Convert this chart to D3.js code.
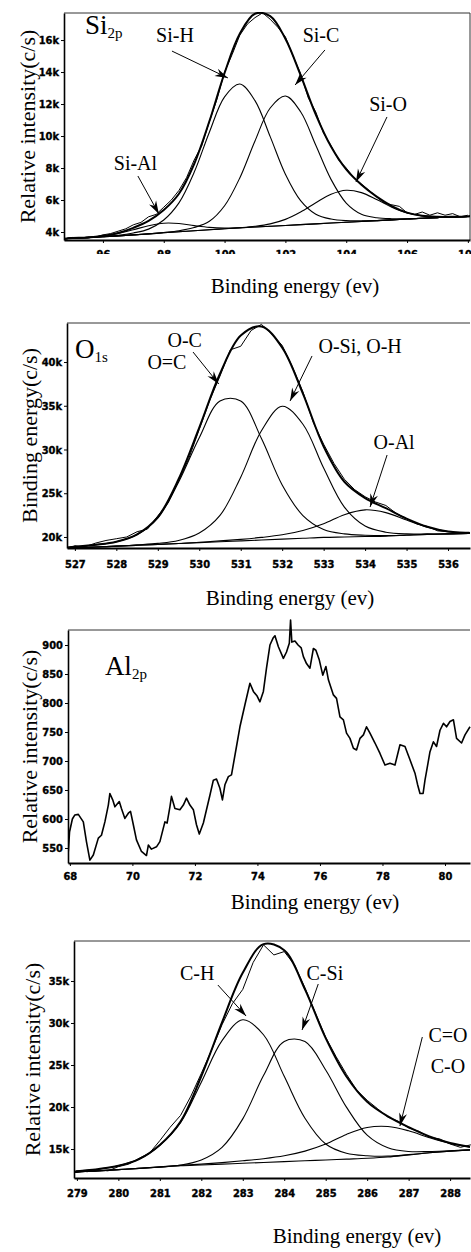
<!DOCTYPE html>
<html>
<head>
<meta charset="utf-8">
<script src="https://cdn.jsdelivr.net/npm/d3@7"></script>
<style>
body { margin: 0; background: #fff; }
.axis path, .axis line { stroke: #000; }
.axis text { font-family: 'DejaVu Sans Condensed', 'Liberation Sans Narrow', sans-serif; font-weight: bold; font-size: 11px; fill: #000; stroke: #000; stroke-width: 0.35px; }
.serif { font-family: 'Liberation Serif', 'Times New Roman', serif; fill: #000; }
</style>
</head>
<body>
<svg id="chart" width="471" height="1252"></svg>
<script>
// ---------- Si 2p (intensity in k c/s) ----------
const siEnergy   = [94.72, 95, 95.5, 96, 96.5, 97, 97.5, 98, 98.5, 99, 99.5, 100, 100.5, 101, 101.5, 102, 102.5, 103, 103.5, 104, 104.5, 105, 105.5, 106, 106.5, 107, 107.5, 108, 108.07];
const siBaseline = [3.58, 3.62, 3.65, 3.70, 3.76, 3.82, 3.88, 3.95, 4.02, 4.08, 4.14, 4.20, 4.26, 4.31, 4.36, 4.41, 4.46, 4.51, 4.56, 4.61, 4.66, 4.71, 4.76, 4.81, 4.86, 4.90, 4.94, 4.97, 4.98];
const siH        = [3.58, 3.62, 3.65, 3.71, 3.79, 3.94, 4.18, 4.75, 5.82, 7.73, 10.24, 12.45, 13.25, 12.21, 9.96, 7.61, 5.96, 5.11, 4.81, 4.71, 4.70, 4.71, 4.76, 4.81, 4.86, 4.90, 4.94, 4.97, 4.98];
const siC        = [3.58, 3.62, 3.65, 3.70, 3.76, 3.82, 3.88, 3.97, 4.08, 4.28, 4.67, 5.64, 7.38, 9.69, 11.75, 12.50, 11.52, 9.42, 7.29, 5.81, 5.11, 4.89, 4.83, 4.83, 4.86, 4.90, 4.94, 4.97, 4.98];
const siO        = [3.58, 3.62, 3.65, 3.70, 3.76, 3.82, 3.88, 3.95, 4.02, 4.08, 4.14, 4.20, 4.27, 4.36, 4.51, 4.79, 5.25, 5.83, 6.36, 6.61, 6.46, 6.03, 5.55, 5.19, 5.01, 4.95, 4.95, 4.97, 4.98];
const siAl       = [3.58, 3.62, 3.66, 3.75, 3.91, 4.14, 4.39, 4.55, 4.53, 4.40, 4.29, 4.25, 4.27, 4.31, 4.36, 4.41, 4.46, 4.51, 4.56, 4.61, 4.66, 4.71, 4.76, 4.81, 4.86, 4.90, 4.94, 4.97, 4.98];
const siEnvelope = [3.58, 3.62, 3.66, 3.76, 3.94, 4.26, 4.69, 5.37, 6.39, 8.25, 10.92, 13.94, 16.39, 17.64, 17.50, 16.08, 13.81, 11.34, 9.34, 7.91, 6.95, 6.21, 5.62, 5.21, 5.01, 4.95, 4.95, 4.97, 4.98];
const siRawEnergy = [94.75, 95, 95.25, 95.5, 95.75, 96, 96.25, 96.5, 96.75, 97, 97.25, 97.5, 97.75, 98, 98.25, 98.5, 98.75, 99, 99.25, 99.5, 99.75, 100, 100.25, 100.5, 100.75, 101, 101.25, 101.5, 101.75, 102, 102.25, 102.5, 102.75, 103, 103.25, 103.5, 103.75, 104, 104.25, 104.5, 104.75, 105, 105.25, 105.5, 105.75, 106, 106.25, 106.5, 106.75, 107, 107.25, 107.5, 107.75, 108];
const siRaw = [3.55, 3.66, 3.60, 3.70, 3.68, 3.82, 3.90, 4.05, 4.20, 4.45, 4.60, 4.95, 5.10, 5.55, 6.00, 6.60, 7.40, 8.50, 9.40, 10.90, 12.30, 14.00, 15.10, 16.30, 17.00, 17.40, 17.70, 17.30, 16.80, 16.20, 15.00, 13.90, 12.40, 11.50, 10.20, 9.40, 8.50, 8.00, 7.40, 7.00, 6.60, 6.20, 5.80, 5.70, 5.60, 5.20, 5.10, 5.25, 5.05, 5.20, 5.05, 5.15, 4.95, 5.05];
const siXTicks = [96, 98, 100, 102, 104, 106, 108];
const siYTicks = [4, 6, 8, 10, 12, 14, 16];

// ---------- O 1s ----------
const oEnergy   = [526.81, 527, 527.5, 528, 528.5, 529, 529.5, 530, 530.5, 531, 531.5, 532, 532.5, 533, 533.5, 534, 534.5, 535, 535.5, 536, 536.5, 536.53];
const oBaseline = [18.70, 18.75, 18.85, 18.95, 19.05, 19.15, 19.25, 19.35, 19.45, 19.55, 19.65, 19.75, 19.85, 19.95, 20.00, 20.05, 20.10, 20.20, 20.30, 20.35, 20.40, 20.40];
const oC        = [18.80, 18.87, 19.10, 19.45, 20.25, 22.15, 26.25, 31.35, 35.55, 35.55, 31.25, 25.95, 22.45, 20.85, 20.35, 20.20, 20.16, 20.22, 20.30, 20.35, 20.40, 20.40];
const oSi       = [18.70, 18.75, 18.85, 18.95, 19.10, 19.27, 19.60, 20.45, 22.46, 26.84, 32.15, 34.95, 32.89, 27.88, 23.41, 21.25, 20.55, 20.35, 20.35, 20.35, 20.40, 20.40];
const oAl       = [18.70, 18.75, 18.85, 18.95, 19.05, 19.15, 19.25, 19.40, 19.55, 19.73, 19.95, 20.25, 20.75, 21.51, 22.55, 23.10, 22.78, 21.93, 21.12, 20.63, 20.47, 20.46];
const oEnvelope = [18.80, 18.87, 19.10, 19.45, 20.30, 22.27, 26.60, 32.50, 38.66, 43.02, 44.05, 41.65, 36.39, 30.34, 26.31, 24.45, 23.29, 22.10, 21.17, 20.63, 20.47, 20.46];
const oRawEnergy = [526.8, 527, 527.25, 527.5, 527.75, 528, 528.25, 528.5, 528.75, 529, 529.25, 529.5, 529.75, 530, 530.25, 530.5, 530.75, 531, 531.25, 531.5, 531.75, 532, 532.25, 532.5, 532.75, 533, 533.25, 533.5, 533.75, 534, 534.25, 534.5, 534.75, 535, 535.25, 535.5, 535.75, 536, 536.25, 536.5];
const oRaw = [18.6, 19.0, 18.9, 19.3, 19.6, 19.8, 20.0, 20.6, 20.9, 22.4, 23.9, 26.4, 29.0, 32.3, 35.6, 38.4, 41.4, 41.8, 43.6, 44.3, 43.2, 41.9, 39.4, 36.6, 33.1, 30.6, 28.4, 26.6, 25.4, 24.6, 24.0, 23.6, 22.7, 22.1, 21.5, 21.2, 20.7, 20.6, 20.5, 20.4];
const oXTicks = [527, 528, 529, 530, 531, 532, 533, 534, 535, 536];
const oYTicks = [20, 25, 30, 35, 40];

// ---------- Al 2p (c/s) ----------
const alEnergy = [67.95, 67.99, 68.08, 68.16, 68.27, 68.43, 68.53, 68.64, 68.75, 68.91, 69.01, 69.12, 69.23, 69.28, 69.37, 69.44, 69.58, 69.65, 69.76, 69.87, 69.94, 70.03, 70.13, 70.29, 70.45, 70.51, 70.61, 70.77, 70.88, 71.04, 71.11, 71.2, 71.25, 71.36, 71.52, 71.63, 71.73, 71.84, 71.95, 72.05, 72.14, 72.27, 72.37, 72.48, 72.59, 72.69, 72.8, 72.88, 72.96, 73.07, 73.17, 73.33, 73.44, 73.6, 73.76, 73.87, 73.99, 74.08, 74.19, 74.29, 74.4, 74.5, 74.56, 74.67, 74.83, 74.93, 75.02, 75.06, 75.1, 75.2, 75.3, 75.4, 75.47, 75.57, 75.68, 75.79, 75.87, 75.98, 76.09, 76.19, 76.27, 76.43, 76.53, 76.64, 76.75, 76.85, 76.96, 77.07, 77.17, 77.28, 77.39, 77.49, 77.6, 77.76, 77.92, 78.08, 78.24, 78.4, 78.56, 78.72, 78.88, 79.04, 79.12, 79.2, 79.3, 79.36, 79.41, 79.52, 79.63, 79.73, 79.84, 79.95, 80.05, 80.16, 80.27, 80.37, 80.53, 80.64, 80.8];
const alCounts = [544, 578, 600, 607, 608, 595, 561, 529, 538, 567, 572, 595, 624, 644, 633, 621, 630, 618, 601, 610, 613, 590, 564, 544, 537, 555, 548, 552, 561, 595, 593, 621, 639, 618, 616, 624, 636, 624, 616, 590, 574, 593, 616, 641, 667, 669, 653, 633, 659, 673, 676, 725, 759, 797, 834, 820, 812, 802, 820, 860, 900, 912, 916, 897, 877, 888, 903, 943, 905, 907, 900, 895, 880, 868, 860, 894, 891, 874, 848, 863, 840, 814, 808, 776, 771, 748, 739, 722, 719, 739, 745, 759, 748, 731, 713, 693, 696, 693, 728, 725, 702, 679, 660, 644, 644, 667, 682, 716, 733, 725, 753, 765, 759, 768, 771, 739, 731, 745, 759];
const alXTicks = [68, 70, 72, 74, 76, 78, 80];
const alYTicks = [550, 600, 650, 700, 750, 800, 850, 900];

// ---------- C 1s ----------
const cEnergy   = [278.93, 279, 279.5, 280, 280.5, 281, 281.5, 282, 282.5, 283, 283.5, 284, 284.5, 285, 285.5, 286, 286.5, 287, 287.5, 288, 288.48];
const cBaseline = [12.20, 12.25, 12.40, 12.55, 12.70, 12.85, 13.00, 13.10, 13.20, 13.30, 13.40, 13.50, 13.60, 13.70, 13.80, 13.90, 14.05, 14.30, 14.55, 14.75, 14.90];
const cH        = [12.28, 12.35, 12.60, 13.00, 13.80, 15.45, 18.14, 22.96, 27.90, 30.38, 28.60, 23.65, 18.67, 15.60, 14.50, 14.20, 14.15, 14.33, 14.55, 14.75, 14.90];
const cSi       = [12.20, 12.25, 12.40, 12.55, 12.70, 12.86, 13.09, 13.70, 15.20, 18.59, 23.74, 27.81, 27.79, 24.41, 19.99, 16.65, 15.15, 14.70, 14.70, 14.80, 14.90];
const cO        = [12.20, 12.25, 12.40, 12.55, 12.70, 12.87, 13.05, 13.20, 13.38, 13.60, 13.85, 14.20, 14.75, 15.59, 16.74, 17.56, 17.68, 17.17, 16.35, 15.66, 15.25];
const cEnvelope = [12.28, 12.35, 12.60, 13.00, 13.80, 15.48, 18.28, 23.66, 30.08, 35.97, 39.39, 38.66, 34.01, 28.20, 23.63, 20.61, 18.88, 17.60, 16.50, 15.71, 15.25];
const cRawEnergy = [278.93, 279, 279.25, 279.5, 279.75, 280, 280.25, 280.5, 280.75, 281, 281.25, 281.5, 281.75, 282, 282.25, 282.5, 282.75, 283, 283.25, 283.5, 283.75, 284, 284.25, 284.5, 284.75, 285, 285.25, 285.5, 285.75, 286, 286.25, 286.5, 286.75, 287, 287.25, 287.5, 287.75, 288, 288.25, 288.5];
const cRaw = [12.2, 12.4, 12.3, 12.5, 12.4, 12.9, 13.2, 13.9, 14.5, 16.0, 17.6, 19.0, 21.3, 24.0, 26.8, 29.8, 32.3, 34.0, 37.2, 39.3, 38.1, 38.5, 36.9, 34.2, 31.2, 28.3, 26.0, 23.9, 22.0, 20.8, 19.8, 18.8, 18.3, 17.5, 17.1, 16.4, 16.2, 15.6, 15.2, 15.5];
const cXTicks = [279, 280, 281, 282, 283, 284, 285, 286, 287, 288];
const cYTicks = [15, 20, 25, 30, 35];

const xTitle = "Binding energy (ev)";

const svg = d3.select("#chart");

const panels = [
    {
        id: "si", left: 64, top: 13, right: 470, bottom: 240, rightBorder: true,
        xDomain: [94.72, 108.07], yDomain: [3.5, 17.69],
        xTicks: siXTicks, yTicks: siYTicks, yFmt: d => d + "k", xPad: 7, clipLabels: 254,
        energy: siEnergy, baseline: siBaseline, components: [siH, siC, siO, siAl], envelope: siEnvelope,
        rawEnergy: siRawEnergy, raw: siRaw,
        elem: {main: "Si", sub: "2p", e: 95.41, v: 16.4},
        labels: [
            {text: "Si-H", e: 98.37, v: 15.875},
            {text: "Si-C", e: 103.17, v: 15.875},
            {text: "Si-O", e: 105.375, v: 11.56},
            {text: "Si-Al", e: 97.07, v: 7.875}
        ],
        arrows: [
            {from: [98.27, 15.31], to: [100.11, 13.63]},
            {from: [103.30, 15.38], to: [102.32, 13.19]},
            {from: [105.34, 11.19], to: [104.32, 7.13]},
            {from: [97.15, 7.5], to: [97.84, 5.13]}
        ],
        yTitle: "Relative intensity(c/s)", yTitleX: 35, xTitleX: 295, xTitleY: 293
    },
    {
        id: "o", left: 67, top: 323, right: 470, bottom: 548,
        xDomain: [526.81, 536.53], yDomain: [18.74, 44.46],
        xTicks: oXTicks, yTicks: oYTicks, yFmt: d => d + "k", xPad: 9,
        energy: oEnergy, baseline: oBaseline, components: [oC, oSi, oAl], envelope: oEnvelope,
        rawEnergy: oRawEnergy, raw: oRaw,
        elem: {main: "O", sub: "1s", e: 527.0, v: 40.46},
        labels: [
            {text: "O-C", e: 529.65, v: 41.71},
            {text: "O=C", e: 529.22, v: 39.2},
            {text: "O-Si, O-H", e: 533.88, v: 41.03},
            {text: "O-Al", e: 534.70, v: 30.06}
        ],
        arrows: [
            {from: [529.85, 41.14], to: [530.47, 37.49]},
            {from: [532.72, 40.69], to: [532.19, 35.54]},
            {from: [534.53, 29.37], to: [534.12, 23.43]}
        ],
        yTitle: "Binding energy(c/s)", yTitleX: 37, xTitleX: 290, xTitleY: 605
    },
    {
        id: "al", left: 68, top: 630, right: 470, bottom: 863, clipTop: 14,
        xDomain: [67.94, 80.8], yDomain: [524.1, 925.9],
        xTicks: alXTicks, yTicks: alYTicks, yFmt: d => d, xPad: 6,
        rawEnergy: alEnergy, raw: alCounts, rawWidth: 1.6,
        elem: {main: "Al", sub: "2p", e: 69.12, v: 848.3},
        labels: [], arrows: [],
        yTitle: "Relative intensity(c/s)", yTitleX: 37, xTitleX: 315, xTitleY: 909
    },
    {
        id: "c", left: 74, top: 941, right: 470, bottom: 1178,
        xDomain: [278.93, 288.48], yDomain: [11.55, 39.76],
        xTicks: cXTicks, yTicks: cYTicks, yFmt: d => d + "k", xPad: 8,
        energy: cEnergy, baseline: cBaseline, components: [cH, cSi, cO], envelope: cEnvelope,
        rawEnergy: cRawEnergy, raw: cRaw,
        labels: [
            {text: "C-H", e: 281.9, v: 35.12},
            {text: "C-Si", e: 284.98, v: 35.12},
            {text: "C=O", e: 287.95, v: 27.74},
            {text: "C-O", e: 287.95, v: 24.05}
        ],
        arrows: [
            {from: [282.4, 34.52], to: [283.08, 30.83]},
            {from: [284.82, 34.64], to: [284.43, 29.17]},
            {from: [287.33, 28.33], to: [286.79, 17.74]}
        ],
        yTitle: "Relative intensity(c/s)", yTitleX: 40, xTitleX: 357, xTitleY: 1243
    }
];

function arrowHead(x1, y1, x2, y2) {
    const a = Math.atan2(y2 - y1, x2 - x1);
    const L = 13, W = 4, N = 9;
    const c = Math.cos(a), s = Math.sin(a);
    const bx = x2 - L * c, by = y2 - L * s;
    const nx = x2 - N * c, ny = y2 - N * s;
    const px = -s * W, py = c * W;
    return "M" + x2 + "," + y2 + "L" + (bx + px) + "," + (by + py) + "L" + nx + "," + ny + "L" + (bx - px) + "," + (by - py) + "Z";
}

function drawPanel(p) {
    const x = d3.scaleLinear().domain(p.xDomain).range([p.left, p.right]);
    const y = d3.scaleLinear().domain(p.yDomain).range([p.bottom, p.top]);
    const g = svg.append("g").attr("id", "panel-" + p.id);

    const pad = p.clipTop || 1;
    svg.append("clipPath").attr("id", "clip-" + p.id)
        .append("rect")
        .attr("x", p.left).attr("y", p.top - pad)
        .attr("width", p.right - p.left + 1).attr("height", p.bottom - p.top + pad);

    // frame
    g.append("line").attr("x1", p.left).attr("x2", p.right).attr("y1", p.top).attr("y2", p.top)
        .attr("stroke", "#333").attr("stroke-width", 1);
    if (p.rightBorder) {
        g.append("line").attr("x1", p.right).attr("x2", p.right).attr("y1", p.top).attr("y2", p.bottom)
            .attr("stroke", "#333").attr("stroke-width", 1);
    }

    const plot = g.append("g").attr("clip-path", "url(#clip-" + p.id + ")");

    if (p.energy) {
        const smooth = d3.line()
            .x((d, i) => x(p.energy[i]))
            .y(d => y(d))
            .curve(d3.curveCatmullRom.alpha(0.5));
        plot.append("path").attr("d", smooth(p.baseline))
            .attr("fill", "none").attr("stroke", "#000").attr("stroke-width", 1.1);
        p.components.forEach(c => {
            plot.append("path").attr("d", smooth(c))
                .attr("fill", "none").attr("stroke", "#000").attr("stroke-width", 1.1);
        });
    }

    const rawLine = d3.line()
        .x((d, i) => x(p.rawEnergy[i]))
        .y(d => y(d));
    plot.append("path").attr("d", rawLine(p.raw))
        .attr("fill", "none").attr("stroke", "#000").attr("stroke-width", p.rawWidth || 1)
        .attr("stroke-linejoin", "round");

    if (p.envelope) {
        const env = d3.line()
            .x((d, i) => x(p.energy[i]))
            .y(d => y(d))
            .curve(d3.curveCatmullRom.alpha(0.5));
        plot.append("path").attr("d", env(p.envelope))
            .attr("fill", "none").attr("stroke", "#000").attr("stroke-width", 2);
    }

    // axes
    const xa = g.append("g").attr("class", "axis")
        .attr("transform", "translate(0," + p.bottom + ")")
        .call(d3.axisBottom(x).tickValues(p.xTicks).tickSize(3).tickSizeOuter(0).tickPadding(p.xPad));
    xa.select(".domain").attr("stroke-width", 2.2);
    if (p.clipLabels) {
        svg.append("clipPath").attr("id", "clipx-" + p.id)
            .append("rect").attr("x", 0).attr("y", -12).attr("width", 471).attr("height", p.clipLabels - p.bottom + 12);
        xa.attr("clip-path", "url(#clipx-" + p.id + ")");
    }

    const ya = g.append("g").attr("class", "axis")
        .attr("transform", "translate(" + p.left + ",0)")
        .call(d3.axisLeft(y).tickValues(p.yTicks).tickFormat(p.yFmt).tickSize(3).tickSizeOuter(0).tickPadding(2));
    ya.select(".domain").attr("stroke-width", 1.6);

    // element label
    if (p.elem) {
        const t = g.append("text").attr("class", "serif")
            .attr("x", x(p.elem.e)).attr("y", y(p.elem.v))
            .style("font-size", "27px");
        t.append("tspan").text(p.elem.main);
        t.append("tspan").text(p.elem.sub).style("font-size", "15px").attr("dy", 4);
    }

    // component labels
    g.selectAll("text.lbl").data(p.labels).enter().append("text")
        .attr("class", "serif lbl")
        .attr("x", d => x(d.e)).attr("y", d => y(d.v))
        .attr("text-anchor", "middle")
        .style("font-size", "20px")
        .text(d => d.text);

    // arrows
    p.arrows.forEach(a => {
        const x1 = x(a.from[0]), y1 = y(a.from[1]), x2 = x(a.to[0]), y2 = y(a.to[1]);
        g.append("line").attr("x1", x1).attr("y1", y1).attr("x2", x2).attr("y2", y2)
            .attr("stroke", "#000").attr("stroke-width", 1);
        g.append("path").attr("d", arrowHead(x1, y1, x2, y2)).attr("fill", "#000");
    });

    // axis titles
    g.append("text").attr("class", "serif")
        .attr("x", p.xTitleX).attr("y", p.xTitleY)
        .attr("text-anchor", "middle").style("font-size", "21px")
        .text(xTitle);
    g.append("text").attr("class", "serif")
        .attr("transform", "translate(" + p.yTitleX + "," + ((p.top + p.bottom) / 2) + ") rotate(-90)")
        .attr("text-anchor", "middle").style("font-size", "22px")
        .text(p.yTitle);
}

panels.forEach(drawPanel);
</script>
</body>
</html>
